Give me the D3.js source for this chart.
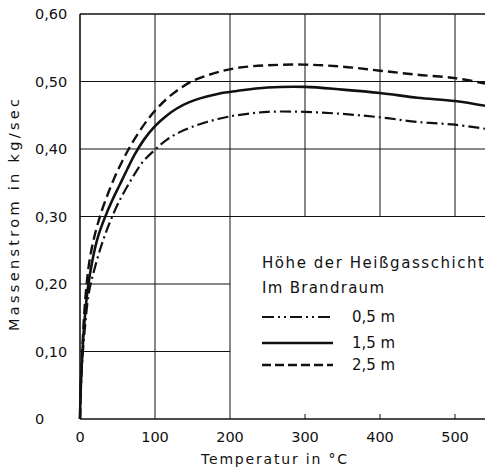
<!DOCTYPE html>
<html><head><meta charset="utf-8">
<script src="https://cdn.jsdelivr.net/npm/d3@7"></script>
<style>body{margin:0;background:#fff}svg{display:block}text{font-family:"DejaVu Sans",sans-serif;fill:#111}</style>
</head><body><svg id="c" width="485" height="470"></svg>
<script>
const xTicks=[0,100,200,300,400,500];
const yTicks=[0,0.1,0.2,0.3,0.4,0.5,0.6];
const yTickLabels=["0","0,10","0,20","0,30","0,40","0,50","0,60"];
const temps25=[0,1,3,5,8,13,20,28,36,45,55,65,78,92,106,124,147,178,209,250,300,350,400,450,500,540];
const s25=[0,0.05,0.10,0.145,0.19,0.237,0.274,0.305,0.33,0.355,0.379,0.40,0.424,0.446,0.464,0.482,0.499,0.512,0.52,0.524,0.525,0.522,0.516,0.51,0.505,0.497];
const temps15=[0,1,3,6,10,16,24,33,43,53,63,73,86,100,115,129,145,160,185,209,250,300,350,400,450,500,540];
const s15=[0,0.045,0.095,0.145,0.19,0.232,0.27,0.298,0.324,0.347,0.37,0.392,0.415,0.434,0.449,0.46,0.469,0.475,0.482,0.486,0.491,0.492,0.488,0.483,0.476,0.471,0.464];
const temps05=[0,1,3,7,12,20,30,40,52,67,83,100,116,133,150,169,190,209,250,300,350,400,450,500,540];
const s05=[0,0.04,0.085,0.14,0.188,0.225,0.262,0.292,0.322,0.352,0.38,0.399,0.414,0.425,0.433,0.44,0.446,0.45,0.455,0.455,0.452,0.447,0.440,0.436,0.43];
const legendTitle=["Höhe der Heißgasschicht","Im Brandraum"];
const legendLabels=["0,5 m","1,5 m","2,5 m"];

const svg=d3.select("#c");
const x=d3.scaleLinear().domain([0,540]).range([80,485]);
const y=d3.scaleLinear().domain([0,0.6]).range([419,14]);
const g=svg.append("g");
g.selectAll(".vg").data(xTicks.filter(d=>d>0)).join("line")
 .attr("x1",d=>x(d)).attr("x2",d=>x(d))
 .attr("y1",y(0.6)).attr("y2",d=>d<=200?y(0):y(0.3))
 .attr("stroke","#111").attr("stroke-width",1);
g.selectAll(".hg").data(yTicks.filter(d=>d>0)).join("line")
 .attr("x1",x(0)).attr("x2",d=>d<0.25?x(200):485)
 .attr("y1",d=>y(d)).attr("y2",d=>y(d))
 .attr("stroke","#111").attr("stroke-width",d=>d===0.6?1.4:1);
g.selectAll(".bt").data(xTicks.filter(d=>d>200)).join("line")
 .attr("x1",d=>x(d)).attr("x2",d=>x(d)).attr("y1",y(0)).attr("y2",y(0)-5)
 .attr("stroke","#111").attr("stroke-width",1);
g.append("line").attr("x1",x(0)).attr("x2",x(0)).attr("y1",y(0.6)).attr("y2",y(0)).attr("stroke","#111").attr("stroke-width",1.6);
g.append("line").attr("x1",x(0)).attr("x2",485).attr("y1",y(0)).attr("y2",y(0)).attr("stroke","#111").attr("stroke-width",1.6);
g.selectAll(".yl").data(yTicks).join("text")
 .attr("x",35).attr("y",d=>y(d)+5).attr("font-size",14.5).text((d,i)=>yTickLabels[i]);
g.selectAll(".xl").data(xTicks).join("text")
 .attr("x",d=>x(d)).attr("y",442).attr("text-anchor","middle").attr("font-size",14.5).text(d=>d);
svg.append("text").attr("transform","translate(19,215) rotate(-90)").attr("text-anchor","middle")
 .attr("font-size",14.5).attr("textLength",232).attr("lengthAdjust","spacing").text("Massenstrom in kg/sec");
svg.append("text").attr("x",274).attr("y",464).attr("text-anchor","middle")
 .attr("font-size",14).attr("textLength",146).attr("lengthAdjust","spacing").text("Temperatur in °C");
const line=d3.line().curve(d3.curveCatmullRom.alpha(0.5));
const series=[
 {t:temps05,v:s05,dash:"11,4,2,4",w:2.2},
 {t:temps15,v:s15,dash:null,w:2.6},
 {t:temps25,v:s25,dash:"10,5",w:2.4}
];
series.forEach(s=>{
 g.append("path").attr("d",line(s.t.map((t,i)=>[x(t),y(s.v[i])])))
  .attr("fill","none").attr("stroke","#111").attr("stroke-width",s.w)
  .attr("stroke-dasharray",s.dash);
});
svg.append("text").attr("x",262).attr("y",268).attr("font-size",15).attr("textLength",222).attr("lengthAdjust","spacing").text(legendTitle[0]);
svg.append("text").attr("x",262).attr("y",293).attr("font-size",15).attr("textLength",122).attr("lengthAdjust","spacing").text(legendTitle[1]);
const ly=[317,343,365];
series.forEach((s,i)=>{
 svg.append("line").attr("x1",262).attr("x2",333).attr("y1",ly[i]).attr("y2",ly[i])
  .attr("stroke","#111").attr("stroke-width",s.w).attr("stroke-dasharray",i===0?"12,4,2,4,2,4":(i===2?"9,4":null));
 svg.append("text").attr("x",352).attr("y",ly[i]+5).attr("font-size",15).text(legendLabels[i]);
});
</script></body></html>
